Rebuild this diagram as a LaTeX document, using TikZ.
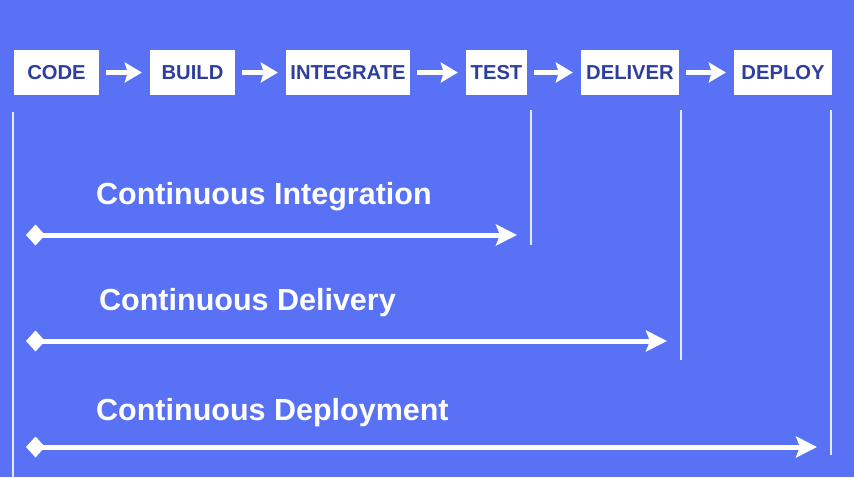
\documentclass[tikz,border=0pt]{standalone}
\usepackage{fontspec}
\setmainfont{Liberation Sans}
\usetikzlibrary{arrows.meta}
\definecolor{bgblue}{RGB}{89,114,245}
\definecolor{txtblue}{RGB}{46,62,158}
\tikzset{
  stage/.style={fill=white, text=txtblue, inner sep=0pt, minimum height=45pt,
    font=\fontsize{20.2}{21}\selectfont\bfseries},
  flow/.style={white, line width=5.5pt, shorten <=7pt, shorten >=8pt,
    -{Stealth[length=17pt,width=20pt,inset=3pt]}},
  span/.style={white, line width=5pt,
    {Diamond[length=19pt,width=21pt]}-{Stealth[length=21pt,width=21pt,inset=4pt]}},
  mark line/.style={white!85!bgblue, line width=1.6pt},
  phase/.style={white, anchor=base west, inner sep=0pt,
    font=\fontsize{30.5}{31}\selectfont\bfseries}
}
\begin{document}
\begin{tikzpicture}[x=1pt, y=-1pt]
\fill[bgblue](0,0) rectangle (854,477);
\useasboundingbox (0,0) rectangle (854,477);

% stages
\node[stage, minimum width=85pt] (code) at (56.5,72.5) {CODE};
\node[stage, minimum width=85pt] (build) at (192.5,72.5) {BUILD};
\node[stage, minimum width=124pt] (integrate) at (348,72.5) {INTEGRATE};
\node[stage, minimum width=61pt] (test) at (496.5,72.5) {TEST};
\node[stage, minimum width=98pt] (deliver) at (630,72.5) {DELIVER};
\node[stage, minimum width=98pt] (deploy) at (783,72.5) {DEPLOY};
\foreach \a/\b in {code/build,build/integrate,integrate/test,test/deliver,deliver/deploy}
{
    \draw[flow](\a.east)--(\b.west);
}

% marker lines
\coordinate (m0) at (13,112);  \coordinate (n0) at (13,477);
\coordinate (m1) at (531,110); \coordinate (n1) at (531,245);
\coordinate (m2) at (681,110); \coordinate (n2) at (681,360);
\coordinate (m3) at (831,110); \coordinate (n3) at (831,455);
\foreach \i in {0,1,2,3}
{
    \draw[mark line](m\i)--(n\i);
}

% phases
\node[phase] (ci) at (96,204) {Continuous Integration};
\node[phase] (cd) at (99,310) {Continuous Delivery};
\node[phase] (cdp) at (96,420) {Continuous Deployment};
\coordinate (ci0) at (26,235);  \coordinate (ci1) at (517,235);
\coordinate (cd0) at (26,341);  \coordinate (cd1) at (667,341);
\coordinate (cdp0) at (26,447); \coordinate (cdp1) at (817,447);
\draw[span](ci0)--(ci1);
\draw[span](cd0)--(cd1);
\draw[span](cdp0)--(cdp1);
\end{tikzpicture}
\end{document}
